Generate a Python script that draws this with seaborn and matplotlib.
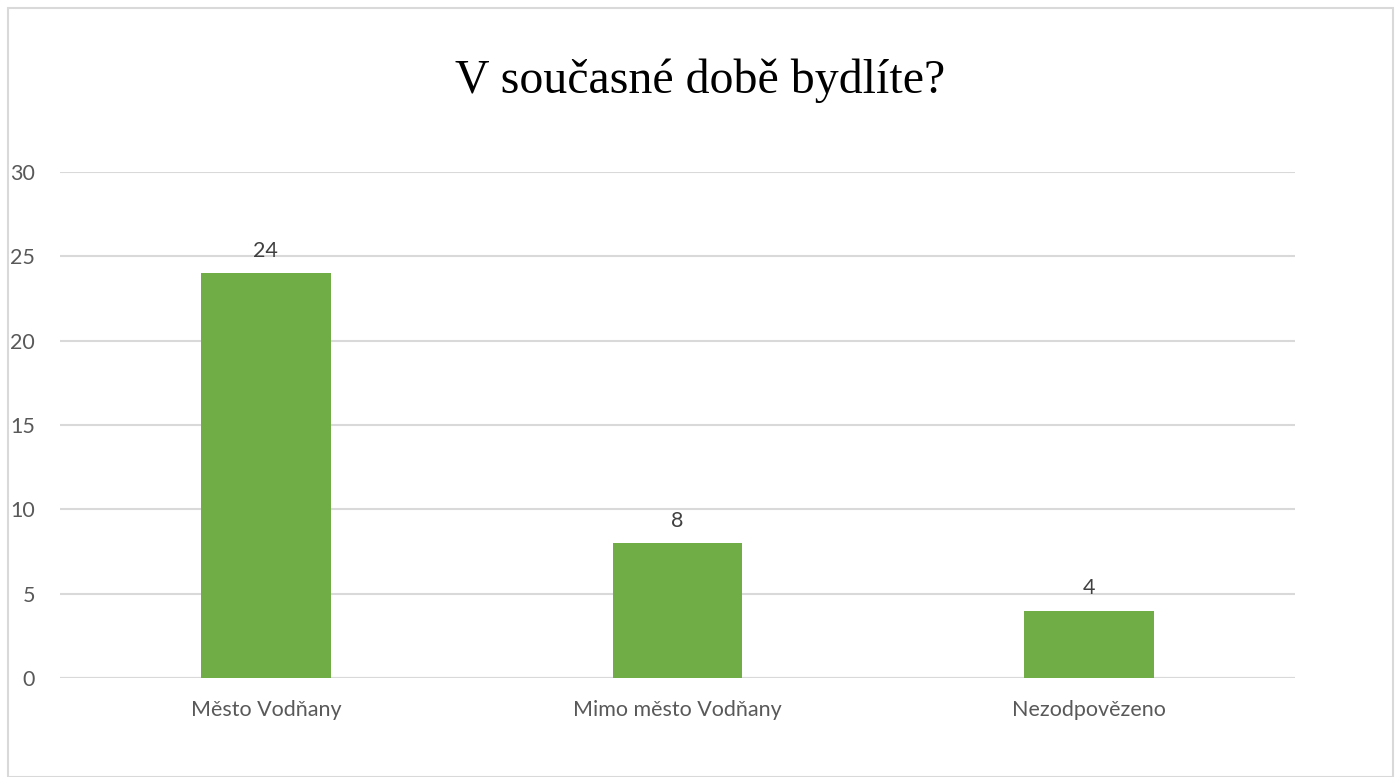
import matplotlib
matplotlib.use("Agg")
import matplotlib.pyplot as plt
import seaborn as sns
import pandas as pd
from matplotlib.patches import Rectangle

categories = ["Město Vodňany", "Mimo město Vodňany", "Nezodpovězeno"]
values = [24, 8, 4]
yticks = [0, 5, 10, 15, 20, 25, 30]
title = "V současné době bydlíte?"

sns.set_theme(style="white")
plt.rcParams["font.family"] = ["Lato", "DejaVu Sans"]

df = pd.DataFrame({"cat": categories, "val": values})

fig = plt.figure(figsize=(14, 7.77), dpi=100)
ax = fig.add_axes([60/1400, 1-678/777, (1295-60)/1400, (678-172)/777])

sns.barplot(data=df, x="cat", y="val", color="#70AD47", width=0.315,
            saturation=1, linewidth=0, ax=ax, zorder=3)

ax.set_ylim(0, 30)
ax.set_xlim(-0.5, 2.5)
ax.set_yticks(yticks)
ax.yaxis.grid(True, color="#D9D9D9", linewidth=1.5, zorder=0)
ax.set_axisbelow(True)
for s in ax.spines.values():
    s.set_visible(False)
ax.axhline(0, color="#D9D9D9", linewidth=1.5, zorder=2)
ax.set_xlabel("")
ax.set_ylabel("")
ax.tick_params(axis="y", length=0, pad=18, labelsize=15.5, labelcolor="#595959")
ax.tick_params(axis="x", length=0, pad=16, labelsize=15.5, labelcolor="#595959")

for c in ax.containers:
    ax.bar_label(c, padding=9, fontsize=15.5, color="#404040")

fig.text(0.5, 1-81/777, title, ha="center", va="center",
         fontsize=34.5, family=["Liberation Serif", "DejaVu Serif"], color="#000000")

fig.patches.append(Rectangle((8/1400, 0), (1393-8)/1400, 1-8/777, transform=fig.transFigure,
                             fill=False, edgecolor="#D9D9D9", linewidth=1.5))

fig.savefig("out.png", dpi=100)
